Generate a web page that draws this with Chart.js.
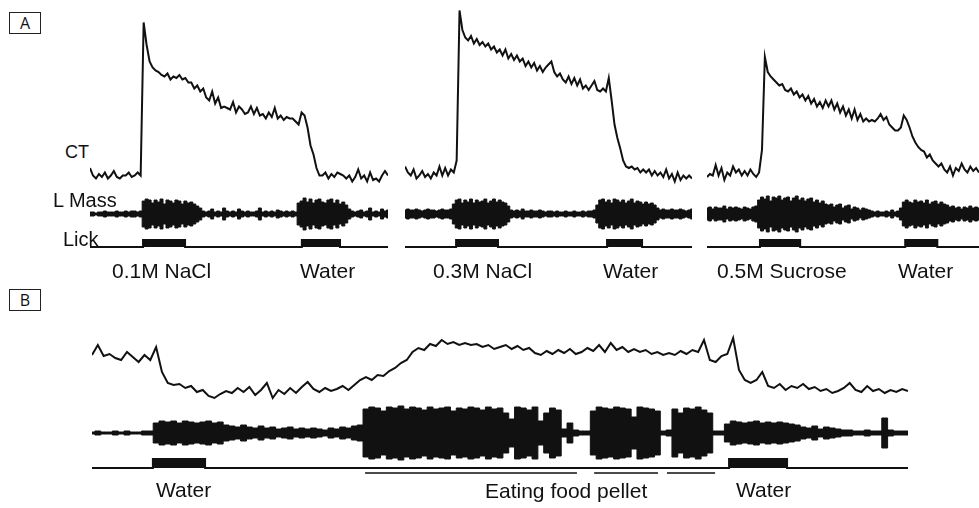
<!DOCTYPE html>
<html>
<head>
<meta charset="utf-8">
<title>CT, L Mass and Lick traces</title>
<script src="https://cdn.jsdelivr.net/npm/chart.js@4.4.1/dist/chart.umd.min.js"></script>
<style>
  html, body { margin: 0; padding: 0; background: #fff; }
  #fig { position: relative; width: 979px; height: 508px; overflow: hidden;
         font-family: "Liberation Sans", Arial, Helvetica, sans-serif; color: #111; }
  #fig canvas { position: absolute; }
  .lbl { position: absolute; white-space: nowrap; font-size: 21px; line-height: 1; }
  .side { font-size: 20px; }
  .ct { font-size: 18px; }
  .box { position: absolute; width: 30px; height: 20px; border: 1px solid #222;
         font-family: "Open Sans", "Noto Sans", sans-serif; font-size: 16px;
         text-align: center; line-height: 20px; }
</style>
</head>
<body>
<div id="fig">
  <div class="box" style="left:9px;top:12px">A</div>
  <div class="box" style="left:9px;top:289px">B</div>

  <canvas id="a1" width="298" height="260" style="left:90px;top:0"></canvas>
  <canvas id="a2" width="287" height="260" style="left:405px;top:0"></canvas>
  <canvas id="a3" width="272" height="260" style="left:707px;top:0"></canvas>
  <canvas id="b" width="816" height="160" style="left:92px;top:320px"></canvas>
</div>

<script>
// Panel A: one sample per second. CT in % of the 0.1M NaCl peak, EMG as envelope amplitude.
var ctA1 = [6, 1, -1, 2, 0, 3, -1, 1, 4, 0, -1, 1, 1, 3, 0, 1, 3, 1,
    103, 88, 77, 73, 71, 70, 68, 67, 69, 65, 67, 66, 68, 65, 66, 63, 63, 59, 61, 57, 59, 53,
    51, 57, 49, 53, 46, 47, 46, 45, 50, 43, 47, 45, 42, 43, 47, 42, 46, 41, 42, 39,
    43, 40, 46, 39, 41, 38, 40, 39, 39, 37, 35, 43, 41, 33, 21, 15, 6, 1, 1, 3,
    -1, 2, 0, 3, 2, 1, -1, 1, -3, 0, 5, -1, 1, -3, 3, -2, -1, -3, 1, 4, 1];
var emgA1 = [2, 2, 1, 2, 2, 3, 2, 2, 2, 3, 2, 2, 3, 2, 3, 3, 2, 3,
    13, 15, 14, 11, 14, 12, 15, 10, 14, 13, 11, 14, 13, 10, 13, 11, 12, 10, 8, 6,
    3, 2, 3, 5, 2, 3, 2, 6, 3, 2, 3, 2, 5, 3, 2, 3, 2, 2, 3, 6, 2, 3, 2, 3, 2, 4, 3, 2, 3, 2, 3, 2,
    11, 13, 16, 12, 15, 11, 14, 15, 12, 11, 14, 15, 11, 14, 10, 12, 9, 5,
    3, 2, 3, 4, 2, 3, 6, 2, 3, 2, 5, 3, 4];
var lickA1 = [[17.8, 31.9], [71.1, 83.9]];

var ctA2 = [7, 3, 1, 5, -1, 1, 4, 0, 2, -1, 3, 1, 7, 1, 6, 1, 5, 3,
    11, 111, 98, 93, 91, 94, 89, 92, 88, 90, 87, 89, 85, 87, 83, 85, 81, 85, 79, 82, 78, 81,
    77, 79, 74, 77, 73, 76, 71, 74, 70, 73, 75, 77, 70, 67, 69, 65, 63, 67, 62, 66,
    61, 65, 59, 61, 58, 61, 64, 58, 57, 59, 57, 66, 51, 35, 26, 19, 11, 7, 6, 7,
    5, 6, 3, 5, 3, 5, 1, 4, 1, 3, 0, 5, -1, 2, -3, 3, -2, 1, -1, 1, -1];
var emgA2 = [4, 5, 4, 4, 5, 4, 3, 4, 5, 4, 4, 3, 4, 5, 4, 4, 5,
    10, 14, 15, 11, 14, 12, 15, 11, 14, 12, 13, 15, 11, 13, 15, 12, 14, 12, 11, 8,
    4, 3, 4, 3, 5, 3, 3, 4, 3, 3, 4, 3, 2, 3, 3, 2, 3, 2, 2, 3, 2, 2, 3, 2, 2, 3, 2, 3, 3, 4,
    9, 14, 15, 12, 14, 11, 15, 14, 12, 14, 11, 13, 15, 11, 13, 12, 10, 12, 10, 11, 9, 6,
    4, 5, 4, 4, 5, 4, 4, 5, 4, 3, 4, 5];
var lickA2 = [[17.8, 32.4], [70.4, 82.6]];

var ctA3 = [0, 2, 1, 8, 1, 6, -2, 3, 1, 7, 3, 5, 1, 4, 1, 5, 2, 0, 3,
    18, 80, 70, 67, 65, 63, 61, 62, 58, 57, 59, 55, 57, 53, 55, 51, 54, 49, 52, 47, 50,
    46, 51, 47, 51, 45, 49, 43, 47, 41, 45, 39, 45, 38, 42, 37, 39, 37, 38, 37, 39,
    42, 38, 40, 35, 33, 31, 31, 33, 41, 38, 33, 27, 23, 20, 18, 17, 13, 15, 11, 9,
    7, 9, 5, 3, 7, 1, 6, 4, 9, 5, 3, 7, 4, 6, 3];
var emgA3 = [6, 7, 5, 7, 6, 6, 8, 5, 7, 6, 7, 6, 5, 7, 6, 5, 7, 8,
    14, 17, 15, 18, 13, 17, 16, 18, 14, 16, 17, 13, 16, 18, 14, 16, 13, 15, 16, 12, 14, 11, 13, 10,
    9, 10, 7, 9, 10, 6, 8, 9, 5, 7, 6, 4, 6, 5, 4,
    3, 2, 3, 2, 2, 3, 2, 4, 2, 3, 6,
    12, 14, 12, 11, 14, 12, 13, 11, 14, 10, 12, 13, 10, 12, 10, 9,
    7, 8, 6, 7, 5, 7, 6, 8, 6, 7, 6];
var lickA3 = [[18.3, 32.2], [68.5, 79.6]];

// Panel B: one sample every 2 s
var ctB = [45, 55, 44, 46, 42, 40, 48, 43, 38, 45, 40, 53, 28, 17, 15, 16, 12, 14, 8, 10,
    4, 2, 6, 9, 7, 12, 8, 13, 5, 10, 17, 2, 10, 6, 12, 7, 13, 18, 11, 8,
    12, 9, 11, 14, 10, 15, 20, 23, 20, 25, 24, 29, 32, 37, 40, 48, 52, 50, 56, 54,
    60, 56, 58, 55, 57, 55, 56, 53, 55, 51, 53, 55, 51, 54, 50, 52, 47, 45, 49, 46,
    50, 47, 51, 46, 48, 52, 49, 55, 48, 57, 50, 53, 48, 51, 48, 50, 46, 48, 45, 47,
    45, 49, 46, 50, 48, 60, 40, 38, 44, 46, 62, 30, 20, 17, 20, 28, 14, 12, 16, 10,
    14, 12, 16, 11, 13, 9, 11, 7, 9, 12, 17, 10, 8, 14, 9, 11, 7, 10, 8, 11, 9];
var emgB = [1, 2, 1, 1, 2, 1, 2, 1, 1, 2, 2,
    10, 12, 11, 12, 10, 12, 11, 10, 11, 12, 10, 11,
    8, 7, 6, 8, 6, 5, 7, 5, 6, 4, 5, 6, 4, 5, 4, 5, 4, 3, 5, 4, 6, 5, 7, 8,
    24, 26, 25, 22, 26, 25, 27, 24, 26, 25, 23, 26, 24, 25, 26, 22, 25, 24, 26, 25, 23, 26, 24, 25, 20,
    14, 26, 25, 23, 26, 12, 20, 25, 23,
    4, 10, 3, 2, 2,
    22, 26, 25, 24, 26, 25, 24, 16, 26, 25, 24, 22,
    2, 3,
    24,
    20, 25, 24, 26, 23, 20,
    2, 2,
    9, 12, 11, 10, 11, 12, 10, 11, 10, 11, 10, 9, 8,
    6, 5, 7, 4, 6, 5, 4, 3, 3,
    2, 2, 3, 2, 2, 15, 3, 2, 2, 2];
var lickB = [[20.9, 38.8], [218.6, 238.5]];
var eatB = [[93.7, 166.4], [172.3, 194.2], [197.3, 213.8]];

var traceNames = ['CT', 'L Mass', 'Lick'];
var stimA = [['0.1M NaCl', 'Water'], ['0.3M NaCl', 'Water'], ['0.5M Sucrose', 'Water']];
var stimB = ['Water', 'Eating food pellet', 'Water'];

// axis range that puts value 0 at zeroPx with pxPer pixels per unit
function range(zeroPx, pxPer, h) {
    return { min: -(h - zeroPx) / pxPer, max: zeroPx / pxPer };
}

function drawPanel(id, p) {
    var pts = function (vals) {
        return vals.map(function (v, i) { return { x: i * p.step, y: v }; });
    };
    var lickPts = [{ x: 0, y: 0 }];
    p.lick.forEach(function (b) {
        lickPts.push({ x: b[0], y: 0 }, { x: b[0], y: 1 }, { x: b[1], y: 1 }, { x: b[1], y: 0 });
    });
    lickPts.push({ x: p.tEnd, y: 0 });

    var line = { borderColor: '#111', pointRadius: 0, tension: 0, clip: false };
    var datasets = [
        Object.assign({ data: pts(p.ct), yAxisID: 'ct', borderWidth: 2, fill: false }, line),
        Object.assign({ data: pts(p.emg), yAxisID: 'emg', borderWidth: 1, backgroundColor: '#111',
                        fill: '+1', stepped: 'middle' }, line),
        Object.assign({ data: pts(p.emg.map(function (v) { return -v; })), yAxisID: 'emg', borderWidth: 1,
                        fill: false, stepped: 'middle' }, line),
        Object.assign({ data: lickPts, yAxisID: 'lick', borderWidth: 2, backgroundColor: '#111', fill: 'origin' }, line)
    ];
    if (p.eat) {
        var eatPts = [];
        p.eat.forEach(function (b) {
            eatPts.push({ x: b[0], y: -0.55 }, { x: b[1], y: -0.55 }, { x: b[1], y: null });
        });
        datasets.push(Object.assign({ data: eatPts, yAxisID: 'lick', borderWidth: 1.6, fill: false, spanGaps: false }, line));
    }

    new Chart(document.getElementById(id), {
        type: 'line',
        data: { datasets: datasets },
        options: {
            responsive: false,
            animation: false,
            events: [],
            layout: { padding: 0 },
            scales: {
                x: { type: 'linear', display: false, min: 0, max: p.tEnd },
                ct: Object.assign({ type: 'linear', display: false }, p.ctAxis),
                emg: Object.assign({ type: 'linear', display: false }, p.emgAxis),
                lick: Object.assign({ type: 'linear', display: false }, p.lickAxis)
            },
            plugins: { legend: { display: false }, tooltip: { enabled: false } }
        }
    });
}

document.addEventListener("DOMContentLoaded", function () {
    var fig = document.getElementById('fig');
    function label(text, left, top, cls) {
        var d = document.createElement('div');
        d.className = 'lbl' + (cls ? ' ' + cls : '');
        d.textContent = text;
        d.style.left = left + 'px';
        d.style.top = top + 'px';
        fig.appendChild(d);
    }

    var aAxes = { ctAxis: range(177, 1.5, 260), emgAxis: range(214, 1, 260), lickAxis: range(247, 7, 260) };
    drawPanel('a1', Object.assign({ ct: ctA1, emg: emgA1, lick: lickA1, step: 1, tEnd: 100 }, aAxes));
    drawPanel('a2', Object.assign({ ct: ctA2, emg: emgA2, lick: lickA2, step: 1, tEnd: 100 }, aAxes));
    drawPanel('a3', Object.assign({ ct: ctA3, emg: emgA3, lick: lickA3, step: 1, tEnd: 94 }, aAxes));
    drawPanel('b', {
        ct: ctB, emg: emgB, lick: lickB, eat: eatB, step: 2, tEnd: 280,
        ctAxis: range(80, 1, 160), emgAxis: range(113, 1, 160), lickAxis: range(148, 9, 160)
    });

    // trace names on the left of panel A
    label(traceNames[0], 65, 143, 'ct');
    label(traceNames[1], 53, 190, 'side');
    label(traceNames[2], 63, 229, 'side');

    // stimulus labels under the lick bars
    var stimX = [[112, 300], [433, 603], [717, 898]];
    stimA.forEach(function (pair, i) {
        label(pair[0], stimX[i][0], 260);
        label(pair[1], stimX[i][1], 260);
    });
    label(stimB[0], 156, 479);
    label(stimB[1], 485, 480);
    label(stimB[2], 736, 479);
});
</script>
</body>
</html>
